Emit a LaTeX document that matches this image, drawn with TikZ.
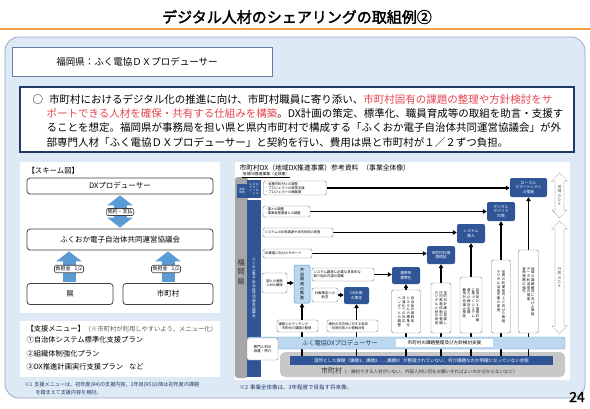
\documentclass[tikz,border=0pt]{standalone}
\usepackage{fontspec}
\setmainfont{Noto Sans CJK JP}
\newfontfamily\tfont[FakeBold=2]{Noto Sans CJK JP}
\usetikzlibrary{arrows.meta}
\pgfdeclarelayer{back}
\pgfdeclarelayer{lines}
\pgfsetlayers{back,lines,main}
\definecolor{pfill}{RGB}{222,233,246}
\definecolor{pbord}{RGB}{150,170,200}
\definecolor{hbord}{RGB}{100,125,165}
\definecolor{navy}{RGB}{31,56,100}
\definecolor{jred}{RGB}{228,70,80}
\definecolor{ablue}{RGB}{91,155,213}
\definecolor{dgrey}{RGB}{64,64,64}
\definecolor{dkblue}{RGB}{47,85,151}
\definecolor{ltblue}{RGB}{189,215,238}
\definecolor{gbar}{RGB}{166,166,166}
\definecolor{gpanel}{RGB}{200,200,200}
\definecolor{orline}{RGB}{240,160,60}
\newcommand\fsx[2]{\fontsize{#1}{#2}\selectfont}
\makeatletter
\newcommand\vtx[1]{\vtop{\@vtx#1\@nil}}
\def\@vtx#1{\ifx#1\@nil\else\hbox to 1em{\hss#1\hss}\expandafter\@vtx\fi}
\makeatother
\begin{document}
\begin{tikzpicture}[x=1pt,y=-1pt,
  btip/.tip={Triangle[length=10pt,width=25pt]},
  stip/.tip={Triangle[length=4pt,width=4.5pt]},
  sbox/.style={draw=dgrey, line width=0.8pt, rounded corners=3pt, fill=white, inner sep=0pt, font=\fsx{7.5}{8}},
  slab/.style={draw=dgrey, line width=0.6pt, rounded corners=1.5pt, fill=white, inner sep=1.2pt, font=\fsx{5}{5.5}},
  barrow/.style={line width=13pt, ablue, shorten >=1pt, shorten <=1pt},
  wbox/.style={draw=gray, line width=0.4pt, rounded corners=1.5pt, fill=white, inner sep=1.5pt, align=left, font=\fsx{3.3}{4}},
  nbox/.style={fill=dkblue, rounded corners=2pt, text=white, align=center, font=\fsx{3.8}{4.6}, inner sep=0pt},
  arr/.style={-stip, line width=1.1pt, black},
  vbox/.style={draw=gray, line width=0.4pt, rounded corners=1.5pt, fill=white, inner sep=0pt, font=\fsx{3.4}{3.8}},
  dotarr/.style={gray, densely dotted, line width=0.6pt, fill=white}]
\useasboundingbox (0,0) rectangle (590,408);
\begin{pgfonlayer}{back}
\fill[white] (0,0) rectangle (590,408);
\draw[orline, line width=2.5pt] (0,29) -- (590,29);
\draw[pbord, fill=pfill, line width=0.8pt, rounded corners=14pt] (5,37) rectangle (585,398);
\fill[white] (20,162) rectangle (220,313);
\fill[white] (20,321) rectangle (220,377);
\fill[white] (235,162) rectangle (570,380);
\fill[gbar, rounded corners=3pt] (235,177) rectangle (248,378);
\fill[gpanel, rounded corners=5pt] (280,352) rectangle (565,377);
\end{pgfonlayer}

% title
\node[font=\tfont\fsx{15}{16}] (title) at (297,17) {デジタル人材のシェアリングの取組例②};
% header
\node[draw=hbord, line width=1pt, fill=white, minimum width=260pt, minimum height=29pt, inner sep=0] (hdr) at (142,61.5) {};
\node[font=\fsx{9.5}{10}] (hdrt) at (137,61.5) {福岡県：ふく電協ＤＸプロデューサー};
% text box
\node[draw=navy, line width=1.1pt, fill=white, minimum width=554pt, minimum height=65pt, inner sep=0] (tb) at (297,119.5) {};
\node[anchor=west, font=\fsx{10.5}{12}] (l1) at (29,99) {○\hspace{6pt}市町村におけるデジタル化の推進に向け、市町村職員に寄り添い、\textcolor{jred}{市町村固有の課題の整理や方針検討をサ}};
\node[anchor=west, font=\fsx{10.5}{12}] (l2) at (43,113.5) {\textcolor{jred}{ポートできる人材を確保・共有する仕組みを構築}。DX計画の策定、標準化、職員育成等の取組を助言・支援す};
\node[anchor=west, font=\fsx{10.5}{12}] (l3) at (43,128) {ることを想定。福岡県が事務局を担い県と県内市町村で構成する「ふくおか電子自治体共同運営協議会」が外};
\node[anchor=west, font=\fsx{10.5}{12}] (l4) at (43,142.5) {部専門人材「ふく電協ＤＸプロデューサー」と契約を行い、費用は県と市町村が１／２ずつ負担。};

% scheme
\node[anchor=west, font=\fsx{7.4}{8}] (sch) at (24,171) {【スキーム図】};
\node[sbox, minimum width=186pt, minimum height=16pt] (dxp) at (120,186) {DXプロデューサー};
\node[sbox, minimum width=186pt, minimum height=21pt] (kyo) at (120,239.5) {ふくおか電子自治体共同運営協議会};
\node[sbox, minimum width=86pt, minimum height=21pt] (ken) at (70,294) {県};
\node[sbox, minimum width=90pt, minimum height=21pt] (shi) at (168,294) {市町村};
\node[slab] (kei) at (120,212) {契約・支払};
\node[slab] (fu1) at (69,269) {負担金\hspace{4pt}1/2};
\node[slab] (fu2) at (166,269) {負担金\hspace{4pt}1/2};

% menu
\node[anchor=west, font=\fsx{7.3}{8}] (m0) at (23,329) {【支援メニュー】\textcolor{black!65}{\fsx{6.3}{7}（※市町村が利用しやすいよう、メニュー化）}};
\node[anchor=west, font=\fsx{7.3}{8}] (m1) at (23,340) {①自治体システム標準化支援プラン};
\node[anchor=west, font=\fsx{7.3}{8}] (m2) at (23,353.5) {②組織体制強化プラン};
\node[anchor=west, font=\fsx{7.3}{8}] (m3) at (23,367) {③DX推進計画実行支援プラン\hspace{6pt}など};
\node[anchor=west, font=\fsx{5.1}{6}, text=navy] (n1a) at (21,385) {※1\hspace{2pt}支援メニューは、初年度(R4)の支援内容。2年目(R5)以降は初年度の課題};
\node[anchor=west, font=\fsx{5.1}{6}, text=navy] (n1b) at (32,393) {を踏まえて支援内容を検討。};

% right diagram
\node[anchor=west, font=\fsx{6.8}{7.5}] (rt) at (236,168) {市町村DX（地域DX推進事業）参考資料\hspace{4pt}（事業全体像）};
\node[anchor=west, font=\fsx{3.8}{4.2}, inner sep=0.5pt] (rst) at (242,174.5) {地域DX推進事業（全体像）};
\draw[line width=0.3pt] (rst.south west) -- (rst.south east);
\node[font=\fsx{7.5}{9.5}, text=black!80] (fk) at (241,272) {\vtx{福岡県}};
\node[fill=dkblue, minimum width=14pt, minimum height=177pt, inner sep=0] (kbar) at (254,288.5) {};
\node[font=\fsx{3.6}{3.8}, text=white] (kbt) at (254,288) {\vtx{ふくおか電子自治体共同運営協議会}};
\node[fill=dkblue, minimum width=10pt, minimum height=14pt, inner sep=0, text=white, font=\fsx{2.6}{3}, align=center] (top1) at (242,191) {推進\\体制};
\node[fill=dkblue, minimum width=14pt, minimum height=18pt, inner sep=0, text=white, font=\fsx{2.8}{3.1}] (top2) at (254,189) {\hbox{\vtx{シティ}\kern.5pt\vtx{スマート}\kern.5pt\vtx{ローカル}}};

\node[wbox, text width=60pt, minimum height=14pt] (r1) at (295,188) {・各種市町村との調整\\・プロジェクトの実施支援\\・プロジェクトの横展開};
\node[wbox, text width=44pt, minimum height=11pt] (r2) at (286.5,211.5) {・国との調整\\・事業実施業者との調整};
\node[wbox, text width=67pt, minimum height=9pt] (r3) at (298,232.5) {システムの共同調達や共同利用の実施};
\node[wbox, text width=46pt, minimum height=9pt] (r4) at (287.5,253.5) {DX推進に向けたサポート};
\node[wbox, text width=22pt, minimum height=20pt, align=center] (r5) at (274.5,283) {国との連携\\人材の確保};
\node[draw=ablue, line width=0.5pt, fill=ltblue, rounded corners=1.5pt, minimum width=16pt, minimum height=38pt, inner sep=0, font=\fsx{4}{4.6}] (lb) at (302,284) {\vtx{共同調達の推進}};
\node[wbox, text width=59pt, minimum height=13pt, font=\fsx{3.4}{4}] (s1) at (343,274.5) {システム調達に必要な具体的な\\取り組み内容の提案};
\node[wbox, text width=23pt, minimum height=14pt, align=center, font=\fsx{3.4}{4}] (s2) at (325,295) {計画策定への\\助言};

\node[nbox, minimum width=37pt, minimum height=19pt] (t1) at (528.5,187.5) {ローカル\\スマートシティ\\の推進};
\node[nbox, minimum width=28pt, minimum height=19pt] (t2) at (501,211.5) {デジタル\\デバイド\\対策};
\node[nbox, minimum width=28pt, minimum height=19pt] (t3) at (471,233.5) {システム\\導入};
\node[nbox, minimum width=28pt, minimum height=18pt] (t4) at (441,255) {市町村計画\\再検証};
\node[nbox, minimum width=28pt, minimum height=17pt] (t5) at (406,275.5) {基幹系\\標準化};
\node[nbox, minimum width=25pt, minimum height=17pt] (t6) at (356.5,295.5) {DX計画\\の策定};

\node[vbox, minimum width=29pt, minimum height=43pt] (v1) at (406,311.5) {\hbox{\vtx{ベンダーとの調整}\kern1pt\vtx{共通化への対応}\kern1pt\vtx{システムの標準化}\kern1pt\vtx{自治体の基幹系}}};
\node[vbox, minimum width=20pt, minimum height=50pt] (v2) at (441,308) {\hbox{\vtx{デジタル人材の育成}\kern1pt\vtx{庁内推進体制の整備}\kern1pt\vtx{市町村計画の見直し}}};
\node[vbox, minimum width=22pt, minimum height=56pt] (v3) at (471,305) {\hbox{\vtx{費用対効果の検証}\kern1pt\vtx{導入の検討支援}\kern1pt\vtx{に基づくシステム}\kern1pt\vtx{自治体DX推進計画}}};
\node[vbox, minimum width=19pt, minimum height=73pt] (v4) at (501,296.5) {\hbox{\vtx{デジタル活用支援の実施}\kern1.5pt\vtx{住民の利便性向上に向けた取組}}};
\node[vbox, minimum width=20pt, minimum height=83pt] (v5) at (528.5,291.5) {\hbox{\vtx{官民連携の強化}\kern1pt\vtx{データ利活用の推進}\kern1pt\vtx{地域の課題解決に向けた取組}}};

\node[wbox, text width=38pt, minimum height=12pt] (b1) at (297.5,326) {課題とのマッチング\\・市町村の課題の整理};
\node[wbox, text width=48pt, minimum height=12pt] (b2) at (352.5,326) {検討の方向性に対する助言\\・共同利用との情報共有};

\node[fill=ltblue, draw=ablue, line width=0.4pt, rounded corners=2pt, minimum width=318pt, minimum height=12pt, inner sep=0] (pb) at (406,343) {};
\node[font=\fsx{6.2}{7}, text=navy] (pbt) at (340,343) {ふく電協DXプロデューサー};
\node[fill=white, minimum width=97pt, minimum height=8pt, inner sep=0, font=\fsx{4.6}{5}] (wb) at (444.5,343) {市町村の課題整理及び方針検討支援};
\node[wbox, text width=28pt, minimum height=22pt, align=center, font=\fsx{3.6}{4.4}] (eb) at (262.5,349) {専門人材の\\派遣・仲介};
\node[fill=dkblue, minimum width=263pt, minimum height=9pt, inner sep=0, text=white, font=\fsx{4.5}{5}] (db) at (421.5,360.5) {漠然とした課題（課題1、課題2……課題X）が整理されていない、何が課題なのか明確になっていない状態};
\node[anchor=west, inner sep=0, text=black!80] (gt) at (321,371) {\fsx{7}{8}市町村\fsx{4.5}{5}（・検討できる人材がいない、外部人材に何をお願いすればよいのか分からないなど）};

% dotted double arrows
\draw[dotarr] (559.5,173) -- (567,181) -- (564,181) -- (564,210) -- (567,210) -- (559.5,218) -- (552,210) -- (555,210) -- (555,181) -- (552,181) -- cycle;
\draw[dotarr] (559.5,221) -- (567,229) -- (564,229) -- (564,326) -- (567,326) -- (559.5,334) -- (552,326) -- (555,326) -- (555,229) -- (552,229) -- cycle;
\node[font=\fsx{3.8}{4.4}, text=black!70] (a1t) at (559.5,195.5) {\vtx{地域のDX}};
\node[font=\fsx{3.8}{4.4}, text=black!70] (a2t) at (559.5,277.5) {\vtx{行政のDX}};

\node[anchor=west, font=\fsx{5.5}{6}, text=navy] (n2) at (236,387) {※2\hspace{2pt}事業全体像は、3年程度で目指す将来像。};
\node[font=\tfont\fsx{14}{15}] (pg) at (577,397) {24};

% connectors
\begin{pgfonlayer}{lines}
\draw[barrow, btip-btip] (dxp.south) -- (kyo.north);
\draw[barrow, -btip] (fu1 |- ken.north) -- (fu1 |- kyo.south);
\draw[barrow, -btip] (shi.north) -- (shi.north |- kyo.south);
\draw[arr] (r1.east) -- (r1.east -| t1.west);
\draw[arr] (r2.east) -- (r2.east -| t2.west);
\draw[arr] (r3.east) -- (r3.east -| t3.west);
\draw[arr] (r4.east) -- (r4.east -| t4.west);
\draw[arr] (r5.east) -- (r5.east -| lb.west);
\draw[arr] (s1.east) -- (s1.east -| t5.west);
\draw[arr] (s2.east) -- (s2.east -| t6.west);
\draw[arr] (lb.south |- db.north) -- (lb.south);
\draw[arr] (t6.south |- db.north) -- (t6.south);
\draw[arr] (t5.south |- db.north) -- (t5.south);
\draw[arr] (t4.south |- db.north) -- (t4.south);
\draw[arr] (t3.south |- db.north) -- (t3.south);
\draw[arr] (t2.south |- db.north) -- (t2.south);
\draw[arr] (t1.south |- db.north) -- (t1.south);
\end{pgfonlayer}
\end{tikzpicture}
\end{document}
